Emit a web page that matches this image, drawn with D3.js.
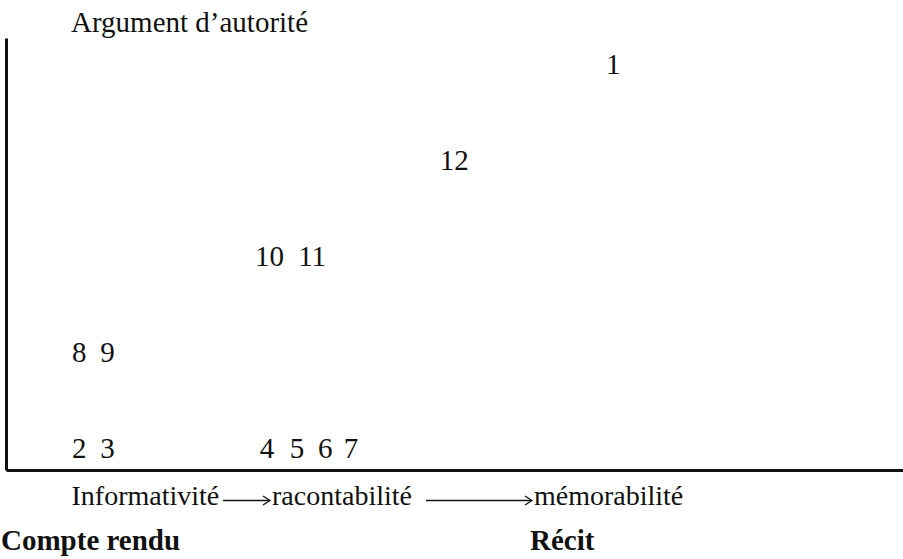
<!DOCTYPE html>
<html>
<head>
<meta charset="utf-8">
<script src="https://cdn.jsdelivr.net/npm/d3@7"></script>
<style>
  body { margin: 0; background: #fff; }
  svg text { font-family: "Liberation Serif", "Times New Roman", Times, "DejaVu Serif", serif; fill: #111; }
</style>
</head>
<body>
<div id="chart"></div>
<script>
// items (numbered texts) placed on the grid
const items = ["1", "2", "3", "4", "5", "6", "7", "8", "9", "10", "11", "12"];
// horizontal position along informativité -> mémorabilité (0..100)
const xPos = [89, 0, 4.7, 31.3, 36.3, 41, 45.3, 0, 4.7, 30.5, 37.7, 61.3];
// vertical level of "argument d'autorité" (0..4)
const levels = [4, 0, 0, 0, 0, 0, 0, 1, 1, 2, 2, 3];

const yTitle = "Argument d\u2019autorité";
const xTitleParts = ["Informativité", "racontabilité", "mémorabilité"];
const poles = ["Compte rendu", "Récit"];

const width = 903, height = 559;
const svg = d3.select("#chart").append("svg")
    .attr("width", width)
    .attr("height", height)
    .attr("font-family", "'Liberation Serif', 'Times New Roman', Times, serif");

const xScale = d3.scaleLinear().domain([-11, 138.5]).range([6, 903]);
const yScale = d3.scaleLinear().domain([-0.125, 4.38]).range([470, 38]);

// axes: only the domain lines, no ticks
svg.append("g")
    .attr("transform", "translate(" + xScale(-11) + ",0)")
    .call(d3.axisLeft(yScale).tickValues([]).tickSizeOuter(0));
svg.append("g")
    .attr("transform", "translate(0," + yScale(-0.125) + ")")
    .call(d3.axisBottom(xScale).tickValues([]).tickSizeOuter(0));
svg.selectAll(".domain").attr("stroke", "#111").attr("stroke-width", 3);

// numbered items
svg.selectAll(".item")
  .data(items)
  .enter()
  .append("text")
    .attr("class", "item")
    .attr("x", (d, i) => xScale(xPos[i]))
    .attr("y", (d, i) => yScale(levels[i]))
    .style("font-size", "29px")
    .text(d => d);

// y title
svg.append("text")
    .attr("x", 71)
    .attr("y", 32)
    .style("font-size", "29px")
    .text(yTitle);

// x title with arrows
const partX = [71.5, 272, 534];
svg.selectAll(".xpart")
  .data(xTitleParts)
  .enter()
  .append("text")
    .attr("class", "xpart")
    .attr("x", (d, i) => partX[i])
    .attr("y", 505)
    .style("font-size", "28px")
    .text(d => d);

const arrows = [[223, 270], [426, 532]];
arrows.forEach(a => {
  svg.append("line")
      .attr("x1", a[0]).attr("x2", a[1] - 1)
      .attr("y1", 500.5).attr("y2", 500.5)
      .attr("stroke", "#111").attr("stroke-width", 1.3);
  svg.append("path")
      .attr("d", "M" + (a[1] - 7) + ",496 L" + a[1] + ",500.5 L" + (a[1] - 7) + ",505")
      .attr("fill", "none")
      .attr("stroke", "#111").attr("stroke-width", 1.3);
});

// poles
const poleX = [1, 530];
svg.selectAll(".pole")
  .data(poles)
  .enter()
  .append("text")
    .attr("class", "pole")
    .attr("x", (d, i) => poleX[i])
    .attr("y", 550)
    .style("font-size", "29px")
    .style("font-weight", "bold")
    .text(d => d);
</script>
</body>
</html>
